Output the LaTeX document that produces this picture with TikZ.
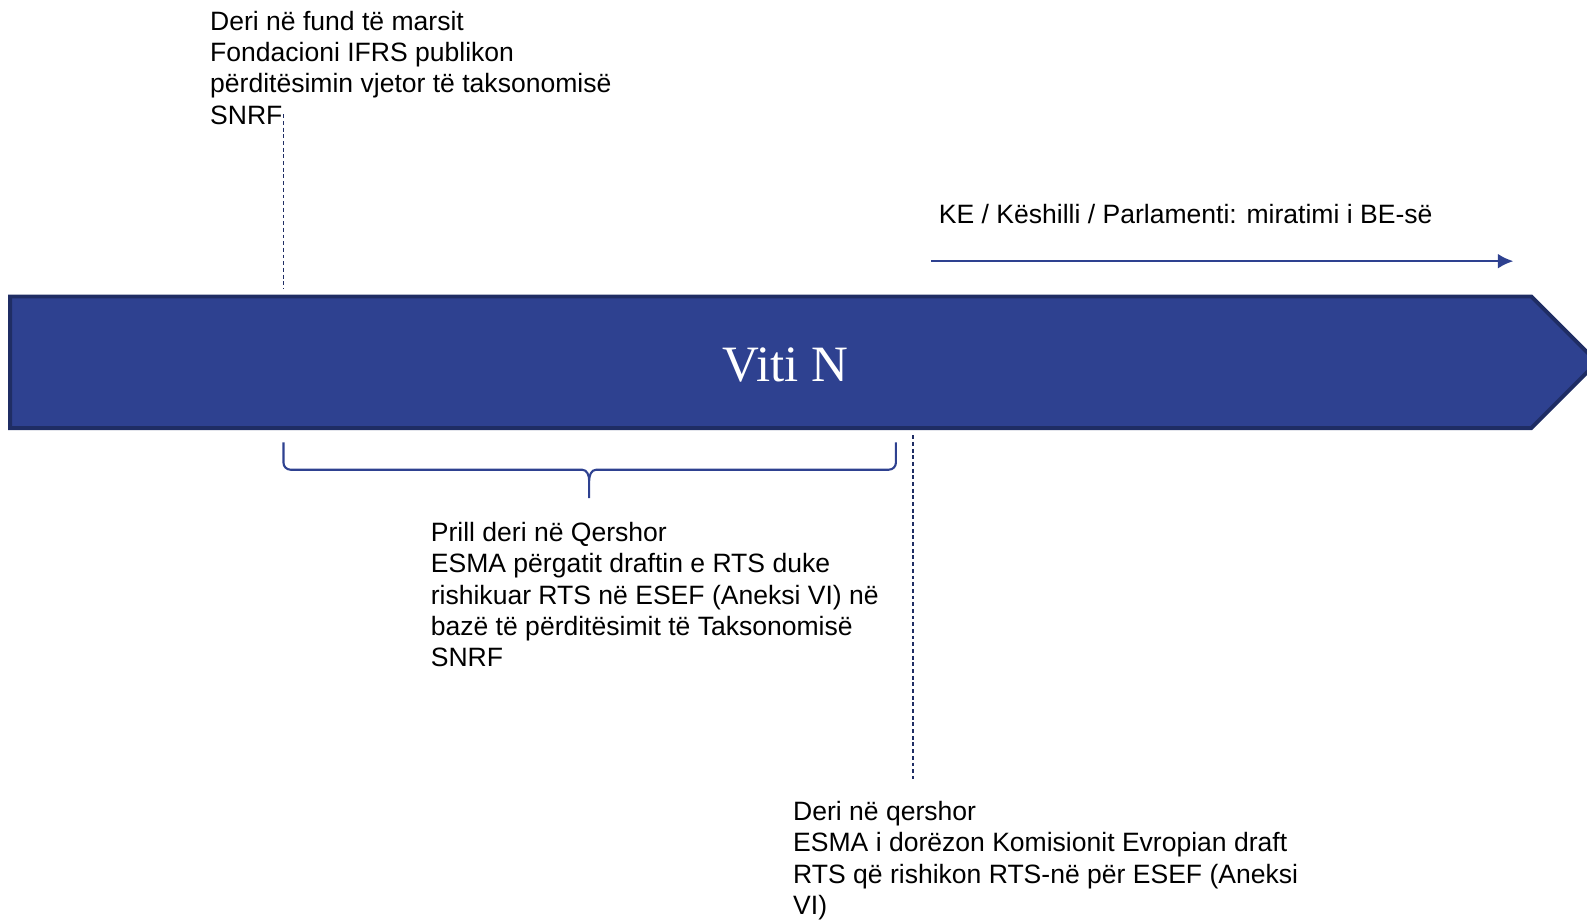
\documentclass[tikz,border=0pt]{standalone}
\usepackage{fontspec}
\usetikzlibrary{arrows.meta}
\setmainfont{Liberation Sans}
\newfontfamily\vitifont{Liberation Serif}
\definecolor{vitiblue}{RGB}{46,65,144}
\definecolor{vitidark}{RGB}{31,45,100}
\tikzset{
  note/.style={anchor=north west, align=left, inner sep=0pt, font=\fontsize{7.55pt}{8.95pt}\selectfont},
  guide/.style={vitidark, line width=0.4pt, dash pattern=on 1.1pt off 0.8pt},
}
\begin{document}
\begin{tikzpicture}[scale=1.0121]
			\useasboundingbox (0,0) rectangle (15.68,-9.10);
			\draw[vitidark, line width=1.1pt, fill=vitiblue] (0.10,-2.93) -- (15.13,-2.93) -- (15.78,-3.58) -- (15.13,-4.23) -- (0.10,-4.23) -- cycle;
			\node[text=white, font=\vitifont\fontsize{14.5pt}{16pt}\selectfont] (viti) at (7.76,-3.61) {Viti N};
			\node[note] (marsi) at (2.07,-0.10) {Deri në fund të marsit\\Fondacioni IFRS publikon\\përditësimin vjetor të taksonomisë\\SNRF};
			\node[note] (ke) at (9.27,-2.01) {KE / Këshilli / Parlamenti: miratimi i BE-së};
			\node[note] (prill) at (4.25,-5.15) {Prill deri në Qershor\\ESMA përgatit draftin e RTS duke\\rishikuar RTS në ESEF (Aneksi VI) në\\bazë të përditësimit të Taksonomisë\\SNRF};
			\node[note] (qershor) at (7.83,-7.91) {Deri në qershor\\ESMA i dorëzon Komisionit Evropian draft\\RTS që rishikon RTS-në për ESEF (Aneksi\\VI)};
			\coordinate (kestart) at (9.20,-2.58);
			\coordinate (keend) at (14.95,-2.58);
			\draw[vitiblue, line width=0.7pt, -{Latex[length=4.4pt,width=4.2pt]}] (kestart) -- (keend);
			\coordinate (marsitop) at (2.80,-1.13);
			\coordinate (marsibot) at (2.80,-2.85);
			\draw[guide] (marsitop) -- (marsibot);
			\coordinate (qershortop) at (9.02,-4.30);
			\coordinate (qershorbot) at (9.02,-7.70);
			\draw[guide] (qershortop) -- (qershorbot);
			\coordinate (braceL) at (2.80,-4.37);
			\coordinate (braceR) at (8.85,-4.37);
			\coordinate (braceM) at (5.82,-4.92);
			\draw[vitiblue, line width=0.6pt] (braceL) -- +(0,-0.2) to[out=-90,in=180] +(0.07,-0.27) -- ([shift={(-0.07,0.28)}]braceM) to[out=0,in=90] ([shift={(0,0.17)}]braceM) -- (braceM) -- ([shift={(0,0.17)}]braceM) to[out=90,in=180] ([shift={(0.07,0.28)}]braceM) -- ([shift={(-0.07,-0.27)}]braceR) to[out=0,in=-90] ([shift={(0,-0.2)}]braceR) -- (braceR);
\end{tikzpicture}
\end{document}
